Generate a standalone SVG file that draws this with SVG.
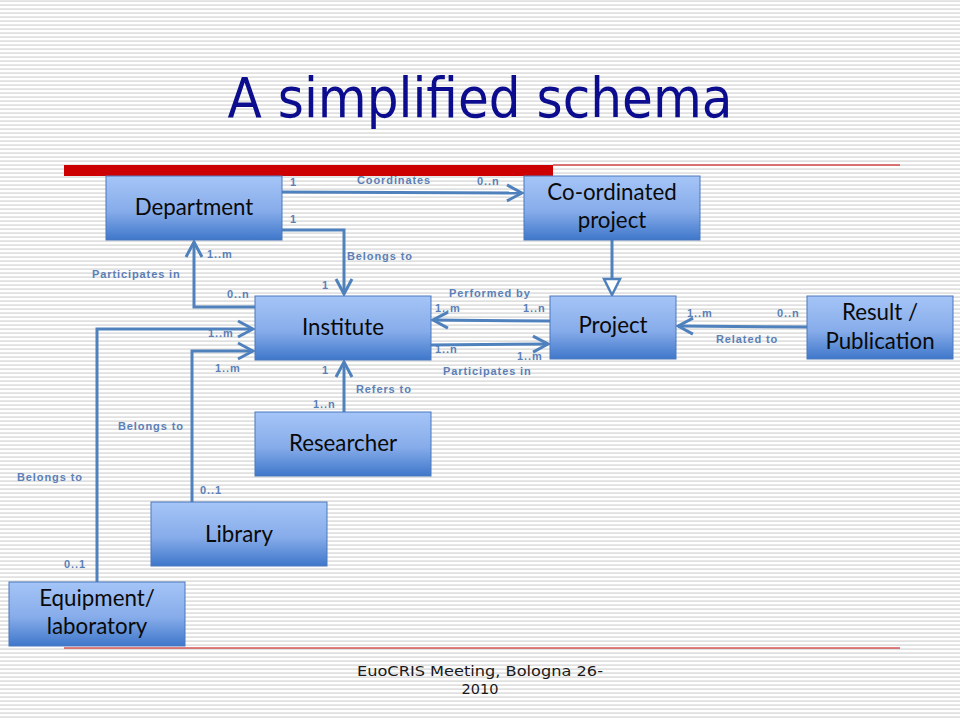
<svg xmlns="http://www.w3.org/2000/svg" width="960" height="720" viewBox="0 0 960 720">
<defs>
<pattern id="stripes" width="4" height="4" patternUnits="userSpaceOnUse">
<rect x="0" y="0.4" width="4" height="1.4" fill="#d9d9d9"/>
</pattern>
<linearGradient id="boxg" x1="0" y1="0" x2="0" y2="1">
<stop offset="0" stop-color="#a5c5f7"/>
<stop offset="0.55" stop-color="#87acea"/>
<stop offset="1" stop-color="#3f77ca"/>
</linearGradient>
<marker id="ch" viewBox="-18 -11 21 22" markerWidth="21" markerHeight="22" refX="0" refY="0" orient="auto" markerUnits="userSpaceOnUse">
<path d="M-15,-8 L0,0 L-15,8" fill="none" stroke="#4f81bd" stroke-width="3"/>
</marker>
<style>
.box{fill:url(#boxg);stroke:#4a78bd;stroke-width:1}
.nt{font-family:Lato,"Open Sans","DejaVu Sans",sans-serif;font-size:22.3px;fill:#0a0a0a;text-anchor:middle}
.lb{font-family:"Liberation Sans",Arial,sans-serif;font-size:11px;font-weight:bold;fill:#5b80b8;letter-spacing:0.9px}
.cn{fill:none;stroke:#4f81bd;stroke-width:3}
.arr{marker-end:url(#ch)}
</style>
</defs>
<rect x="0" y="0" width="960" height="720" fill="#ffffff"/>
<rect x="0" y="0" width="960" height="720" fill="url(#stripes)"/>

<text x="480" y="117" font-family="'DejaVu Sans',Verdana,sans-serif" font-size="55" fill="#0c0c8e" text-anchor="middle" textLength="505" lengthAdjust="spacingAndGlyphs">A simplified schema</text>

<g id="labels">
<text class="lb" x="290" y="186">1</text>
<text class="lb" x="357" y="184">Coordinates</text>
<text class="lb" x="477" y="185">0..n</text>
<text class="lb" x="290" y="223">1</text>
<text class="lb" x="347" y="260">Belongs to</text>
<text class="lb" x="322" y="289">1</text>
<text class="lb" x="207" y="258">1..m</text>
<text class="lb" x="92" y="278">Participates in</text>
<text class="lb" x="227" y="298">0..n</text>
<text class="lb" x="208" y="337">1..m</text>
<text class="lb" x="215" y="372">1..m</text>
<text class="lb" x="118" y="430">Belongs to</text>
<text class="lb" x="200" y="494">0..1</text>
<text class="lb" x="17" y="481">Belongs to</text>
<text class="lb" x="64" y="568">0..1</text>
<text class="lb" x="322" y="374">1</text>
<text class="lb" x="356" y="393">Refers to</text>
<text class="lb" x="313" y="408">1..n</text>
<text class="lb" x="449" y="297">Performed by</text>
<text class="lb" x="435" y="312">1..m</text>
<text class="lb" x="523" y="312">1..n</text>
<text class="lb" x="435" y="353">1..n</text>
<text class="lb" x="517" y="360">1..m</text>
<text class="lb" x="443" y="375">Participates in</text>
<text class="lb" x="687" y="317">1..m</text>
<text class="lb" x="777" y="317">0..n</text>
<text class="lb" x="716" y="343">Related to</text>
</g>

<rect x="64" y="165" width="489" height="11" fill="#cc0000"/>
<line x1="553" y1="165" x2="900" y2="165" stroke="#cc0000" stroke-width="1"/>
<line x1="64" y1="648" x2="900" y2="648" stroke="#c00000" stroke-width="1"/>

<g id="connectors">
<path class="cn arr" d="M282,192 L522,193"/>
<path class="cn arr" d="M282,230 L344,230 L344,294"/>
<path class="cn arr" d="M255,307 L194,307 L194,242"/>
<path class="cn arr" d="M97,582 L97,329 L253,329"/>
<path class="cn arr" d="M192,502 L192,351 L253,351"/>
<path class="cn arr" d="M344,412 L344,362"/>
<path class="cn arr" d="M550,321 L433,320"/>
<path class="cn arr" d="M431,345 L548,344"/>
<path class="cn arr" d="M807,327 L678,326"/>
<path class="cn" d="M612,240 L612,279"/>
<polygon points="604,279 620,279 612,295" fill="#ffffff" stroke="#4f81bd" stroke-width="2.5"/>
</g>

<g id="department">
<rect class="box" x="106" y="176" width="176" height="64"/>
<text class="nt" x="194" y="215">Department</text>
</g>
<g id="coordinated-project">
<rect class="box" x="524" y="176" width="176" height="64"/>
<text class="nt" x="612" y="200">Co-ordinated</text>
<text class="nt" x="612" y="228">project</text>
</g>
<g id="institute">
<rect class="box" x="255" y="296" width="176" height="64"/>
<text class="nt" x="343" y="335">Institute</text>
</g>
<g id="project">
<rect class="box" x="550" y="296" width="126" height="63"/>
<text class="nt" x="613" y="333">Project</text>
</g>
<g id="result-publication">
<rect class="box" x="807" y="296" width="146" height="63"/>
<text class="nt" x="880" y="320">Result /</text>
<text class="nt" x="880" y="349">Publication</text>
</g>
<g id="researcher">
<rect class="box" x="255" y="412" width="176" height="64"/>
<text class="nt" x="343" y="451">Researcher</text>
</g>
<g id="library">
<rect class="box" x="151" y="502" width="176" height="64"/>
<text class="nt" x="239" y="542">Library</text>
</g>
<g id="equipment-laboratory">
<rect class="box" x="9" y="582" width="176" height="64"/>
<text class="nt" x="97" y="606">Equipment/</text>
<text class="nt" x="97" y="634">laboratory</text>
</g>

<g id="footer" font-family="'DejaVu Sans',Verdana,sans-serif" font-size="14.5" fill="#1a1a1a" text-anchor="middle">
<text x="480" y="676" textLength="246" lengthAdjust="spacingAndGlyphs">EuoCRIS Meeting, Bologna 26-</text>
<text x="480" y="694">2010</text>
</g>
</svg>
